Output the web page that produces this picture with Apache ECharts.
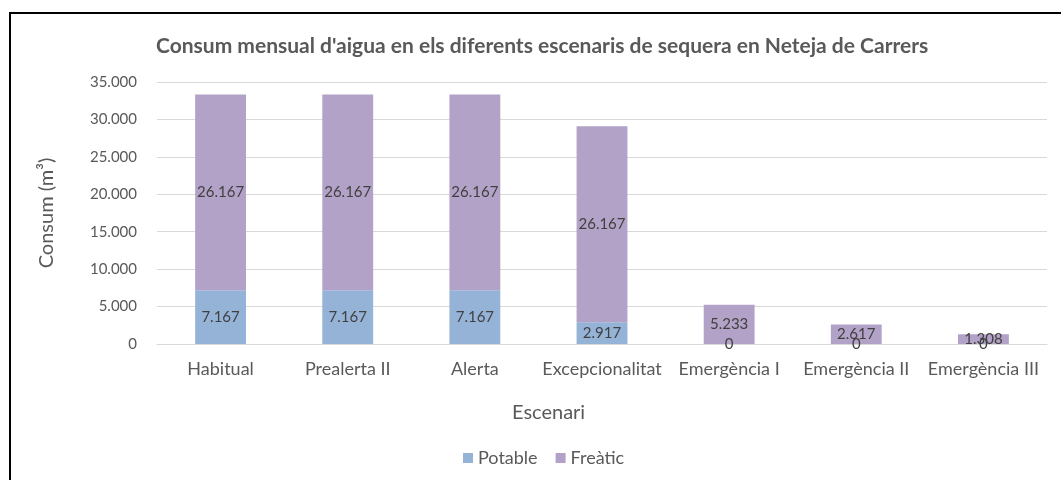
<!DOCTYPE html>
<html>
<head>
<meta charset="utf-8">
<script src="https://cdn.jsdelivr.net/npm/echarts@6/dist/echarts.min.js"></script>
<style>
  html, body { margin: 0; padding: 0; background: #fff; }
  #chart { width: 1061px; height: 480px; }
</style>
</head>
<body>
<div id="chart"></div>
<script>
var categories = ['Habitual', 'Prealerta II', 'Alerta', 'Excepcionalitat', 'Emergència I', 'Emergència II', 'Emergència III'];
var potable = [7167, 7167, 7167, 2917, 0, 0, 0];
var freatic = [26167, 26167, 26167, 26167, 5233, 2617, 1308];

// 7167 -> 7.167
function fmt(v) {
    return String(Math.round(v)).replace(/\B(?=(\d{3})+(?!\d))/g, '.');
}

var font = 'Lato';
var textColor = '#595959';

var myChart = echarts.init(document.getElementById('chart'));
var option = {
    backgroundColor: '#fff',
    title: [
        {
            text: "Consum mensual d'aigua en els diferents escenaris de sequera en Neteja de Carrers",
            left: 151,
            top: 31,
            textStyle: { fontFamily: font, fontSize: 21, fontWeight: 'bold', color: textColor }
        },
        {
            // axis title sits centred on the chart area, not the plot
            text: 'Escenari',
            left: 507,
            top: 398,
            textStyle: { fontFamily: font, fontSize: 20, fontWeight: 'normal', color: textColor }
        }
    ],
    legend: {
        top: 444,
        left: 458,
        itemWidth: 10,
        itemHeight: 10,
        itemGap: 18,
        icon: 'rect',
        textStyle: { fontFamily: font, fontSize: 18, color: textColor },
        data: ['Potable', 'Freàtic']
    },
    grid: { left: 157, right: 14, top: 82, bottom: 136 },
    xAxis: {
        type: 'category',
        data: categories,
        axisTick: { show: false },
        axisLine: { lineStyle: { color: '#d9d9d9' } },
        axisLabel: { fontFamily: font, fontSize: 18, color: textColor, margin: 16, interval: 0 }
    },
    yAxis: {
        type: 'value',
        min: 0,
        max: 35000,
        interval: 5000,
        name: 'Consum (m³)',
        nameLocation: 'middle',
        nameGap: 100,
        nameTextStyle: { fontFamily: font, fontSize: 20, color: textColor },
        splitLine: { lineStyle: { color: '#d9d9d9' } },
        axisLabel: {
            fontFamily: font, fontSize: 15, color: textColor, margin: 20,
            formatter: function (v) { return fmt(v); }
        }
    },
    series: [
        {
            name: 'Potable',
            type: 'bar',
            stack: 'total',
            barWidth: '40%',
            itemStyle: { color: '#95b3d7' },
            label: {
                show: true, position: 'inside', fontFamily: font, fontSize: 15, color: '#404040',
                formatter: function (p) { return fmt(p.value); }
            },
            data: potable
        },
        {
            name: 'Freàtic',
            type: 'bar',
            stack: 'total',
            itemStyle: { color: '#b3a2c7' },
            label: {
                show: true, position: 'inside', fontFamily: font, fontSize: 15, color: '#404040',
                formatter: function (p) { return fmt(p.value); }
            },
            data: freatic
        }
    ],
    graphic: [
        { type: 'line', shape: { x1: 10, y1: 13, x2: 1061, y2: 13 }, style: { stroke: '#000', lineWidth: 2 } },
        { type: 'line', shape: { x1: 10, y1: 12, x2: 10, y2: 480 }, style: { stroke: '#000', lineWidth: 2 } }
    ]
};
myChart.setOption(option);
</script>
</body>
</html>
